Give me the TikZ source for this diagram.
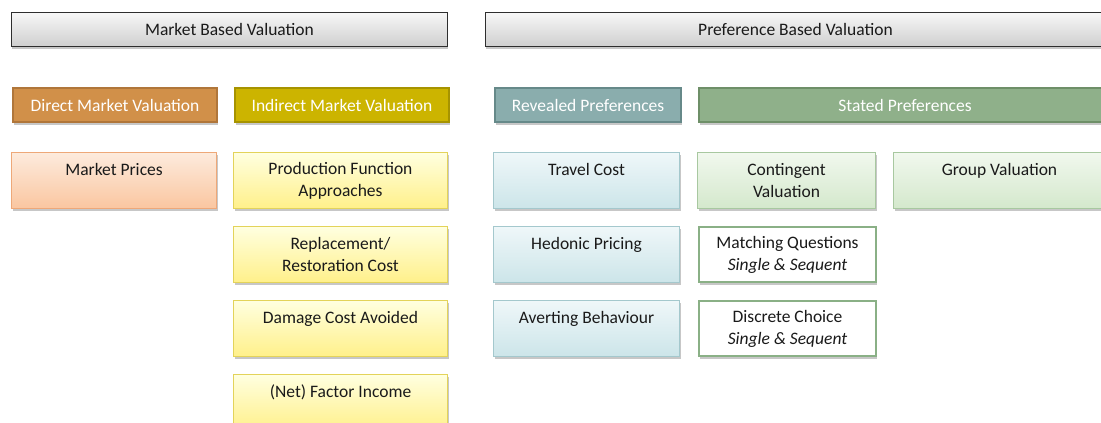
\documentclass[tikz,border=0pt]{standalone}
\usepackage{fontspec}
\setmainfont{Carlito}
\usetikzlibrary{shadows}
\definecolor{hdtop}{HTML}{F7F7F7}
\definecolor{hdbot}{HTML}{CFCFCF}
\definecolor{hdline}{HTML}{2E2E2E}
\definecolor{dirfill}{HTML}{D19049}
\definecolor{dirline}{HTML}{B0763A}
\definecolor{indfill}{HTML}{CCB400}
\definecolor{indline}{HTML}{A69300}
\definecolor{revfill}{HTML}{8AADAD}
\definecolor{revline}{HTML}{668989}
\definecolor{stafill}{HTML}{8FB08A}
\definecolor{staline}{HTML}{6E8F68}
\definecolor{pchtop}{HTML}{FDEBDD}
\definecolor{pchbot}{HTML}{FAC6A0}
\definecolor{pchline}{HTML}{EEA878}
\definecolor{yeltop}{HTML}{FFFFE0}
\definecolor{yelbot}{HTML}{FFF08A}
\definecolor{yelline}{HTML}{E3D35A}
\definecolor{blutop}{HTML}{EFF7F9}
\definecolor{blubot}{HTML}{CCE5E9}
\definecolor{bluline}{HTML}{A4C8CD}
\definecolor{grntop}{HTML}{F1F8EE}
\definecolor{grnbot}{HTML}{D4E8CC}
\definecolor{grnline}{HTML}{A8C8A0}
\definecolor{grnbold}{HTML}{8AB086}
\definecolor{txt}{HTML}{1A1A1A}
\begin{document}
\begin{tikzpicture}[x=1pt,y=-1pt,
  base/.style={rectangle, inner sep=0pt, anchor=north west, align=center,
    font=\fontsize{17.5}{22}\selectfont, text=txt,
    drop shadow={shadow xshift=1pt, shadow yshift=-2.5pt, opacity=0.22, fill=black}},
  header/.style={base, draw=hdline, line width=0.9pt, top color=hdtop, bottom color=hdbot, minimum height=34pt},
  cat/.style={base, text=white, line width=2pt, minimum height=34pt},
  peach/.style={base, draw=pchline, line width=1pt, top color=pchtop, bottom color=pchbot, minimum height=56pt},
  yel/.style={base, draw=yelline, line width=1pt, top color=yeltop, bottom color=yelbot, minimum height=56pt, minimum width=214pt},
  blu/.style={base, draw=bluline, line width=1pt, top color=blutop, bottom color=blubot, minimum height=56pt, minimum width=186pt},
  grn/.style={base, draw=grnline, line width=1pt, top color=grntop, bottom color=grnbot, minimum height=56pt},
  wgrn/.style={base, draw=grnbold, line width=2pt, fill=white, minimum height=55pt, minimum width=177pt},
]
\clip (0,0) rectangle (1101,423);
% headers
\node[header, minimum width=436pt] (mbv) at (11,12) {Market Based Valuation};
\node[header, minimum width=620pt] (pbv) at (485,12) {Preference Based Valuation};
% categories
\node[cat, draw=dirline, fill=dirfill, minimum width=204pt] (dmv) at (12,87) {Direct Market Valuation};
\node[cat, draw=indline, fill=indfill, minimum width=214pt] (imv) at (234,87) {Indirect Market Valuation};
\node[cat, draw=revline, fill=revfill, minimum width=186pt] (rp) at (494,87) {Revealed Preferences};
\node[cat, draw=staline, fill=stafill, minimum width=412pt] (sp) at (698,87) {Stated Preferences};
% direct
\node[peach, minimum width=205pt] (mp) at (11,152) {Market Prices\\\mbox{}};
% indirect
\node[yel] (pfa) at (233,152) {Production Function\\Approaches};
\node[yel] (rrc) at (233,226) {Replacement/\\Restoration Cost};
\node[yel] (dca) at (233,300) {Damage Cost Avoided\\\mbox{}};
\node[yel] (nfi) at (233,374) {(Net) Factor Income\\\mbox{}};
% revealed
\node[blu] (tc) at (493,152) {Travel Cost\\\mbox{}};
\node[blu] (hp) at (493,226) {Hedonic Pricing\\\mbox{}};
\node[blu] (ab) at (493,300) {Averting Behaviour\\\mbox{}};
% stated
\node[grn, minimum width=178pt] (cv) at (697,152) {Contingent\\Valuation};
\node[grn, minimum width=212pt] (gv) at (893,152) {Group Valuation\\\mbox{}};
\node[wgrn] (mq) at (698,226) {Matching Questions\\\textit{Single \& Sequent}};
\node[wgrn] (dc) at (698,300) {Discrete Choice\\\textit{Single \& Sequent}};
\end{tikzpicture}
\end{document}
